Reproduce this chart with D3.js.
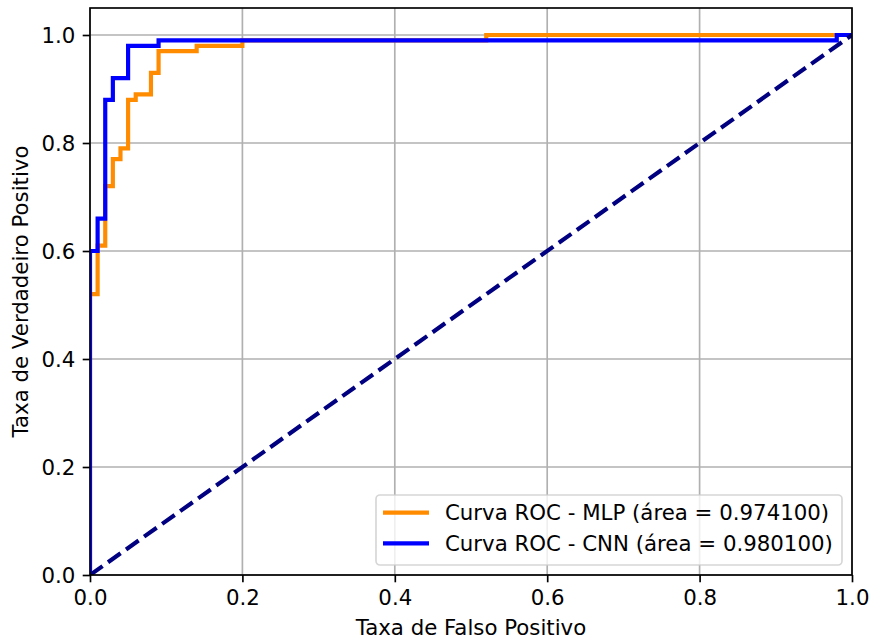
<!DOCTYPE html>
<html>
<head>
<meta charset="utf-8">
<script src="https://cdn.jsdelivr.net/npm/d3@7"></script>
<style>
  html, body { margin: 0; padding: 0; background: #fff; }
  svg { display: block; font-family: "DejaVu Sans", sans-serif; }
</style>
</head>
<body>
<svg id="chart" width="872" height="643"></svg>
<script>
// ---- Data ----
const mlpFpr = [0, 0, 0.01, 0.01, 0.02, 0.02, 0.03, 0.03, 0.04, 0.04, 0.05, 0.05, 0.06, 0.06, 0.08, 0.08, 0.09, 0.09, 0.14, 0.14, 0.20, 0.20, 0.52, 0.52, 1.0];
const mlpTpr = [0, 0.52, 0.52, 0.61, 0.61, 0.72, 0.72, 0.77, 0.77, 0.79, 0.79, 0.88, 0.88, 0.89, 0.89, 0.93, 0.93, 0.97, 0.97, 0.98, 0.98, 0.99, 0.99, 1.0, 1.0];
const cnnFpr = [0, 0, 0.01, 0.01, 0.02, 0.02, 0.03, 0.03, 0.05, 0.05, 0.09, 0.09, 0.98, 0.98, 1.0];
const cnnTpr = [0, 0.60, 0.60, 0.66, 0.66, 0.88, 0.88, 0.92, 0.92, 0.98, 0.98, 0.99, 0.99, 1.0, 1.0];
const diagonal = [[0, 0], [1, 1]];
const xTicks = [0, 0.2, 0.4, 0.6, 0.8, 1.0];
const yTicks = [0, 0.2, 0.4, 0.6, 0.8, 1.0];
const legendLabels = ["Curva ROC - MLP (área = 0.974100)", "Curva ROC - CNN (área = 0.980100)"];
const seriesColors = ["#ff8c00", "#0000ff"];
const xLabel = "Taxa de Falso Positivo";
const yLabel = "Taxa de Verdadeiro Positivo";

// ---- Layout ----
const L = 90, R = 852, T = 8, B = 575;
const fs = 21.3;
const svg = d3.select("#chart");
const x = d3.scaleLinear().domain([0, 1]).range([L, R]);
const y = d3.scaleLinear().domain([0, 1.05]).range([B, T]);

// grid
const grid = svg.append("g");
xTicks.forEach(v => grid.append("line")
  .attr("x1", x(v)).attr("x2", x(v)).attr("y1", T).attr("y2", B)
  .attr("stroke", "#b0b0b0").attr("stroke-width", 1.67));
yTicks.forEach(v => grid.append("line")
  .attr("x1", L).attr("x2", R).attr("y1", y(v)).attr("y2", y(v))
  .attr("stroke", "#b0b0b0").attr("stroke-width", 1.67));

// clip
svg.append("defs").append("clipPath").attr("id", "clip")
  .append("rect").attr("x", L).attr("y", T).attr("width", R - L).attr("height", B - T);

const line = d3.line().x(d => x(d[0])).y(d => y(d[1]));
const plot = svg.append("g").attr("clip-path", "url(#clip)");
const mlp = mlpFpr.map((v, i) => [v, mlpTpr[i]]);
const cnn = cnnFpr.map((v, i) => [v, cnnTpr[i]]);
plot.append("path").datum(mlp).attr("d", line).attr("fill", "none")
  .attr("stroke", seriesColors[0]).attr("stroke-width", 4.17).attr("stroke-linecap", "square");
plot.append("path").datum(cnn).attr("d", line).attr("fill", "none")
  .attr("stroke", seriesColors[1]).attr("stroke-width", 4.17).attr("stroke-linecap", "square");
plot.append("path").datum(diagonal).attr("d", line).attr("fill", "none")
  .attr("stroke", "#000080").attr("stroke-width", 4.17).attr("stroke-dasharray", "15.4,6.7");

// axes
const xAxis = d3.axisBottom(x).tickValues(xTicks).tickFormat(d3.format(".1f")).tickSize(7.3).tickPadding(7.3);
const yAxis = d3.axisLeft(y).tickValues(yTicks).tickFormat(d3.format(".1f")).tickSize(7.3).tickPadding(7.3);
const gx = svg.append("g").attr("transform", `translate(0,${B})`).call(xAxis);
const gy = svg.append("g").attr("transform", `translate(${L},0)`).call(yAxis);
[gx, gy].forEach(g => {
  g.select(".domain").remove();
  g.selectAll(".tick line").attr("stroke", "#000").attr("stroke-width", 1.67);
  g.selectAll(".tick text").attr("fill", "#000").attr("font-size", fs).attr("font-family", "DejaVu Sans");
});
gx.selectAll(".tick text").attr("dy", null).attr("y", 0).attr("dominant-baseline", null)
  .attr("transform", `translate(0,${7.3 + 7.3 + 15.6})`);
gy.selectAll(".tick text").attr("dy", "0.36em");

// spines
svg.append("rect").attr("x", L).attr("y", T).attr("width", R - L).attr("height", B - T)
  .attr("fill", "none").attr("stroke", "#000").attr("stroke-width", 1.67);

// labels
svg.append("text").attr("x", (L + R) / 2).attr("y", 635).attr("text-anchor", "middle")
  .attr("font-size", fs).text(xLabel);
svg.append("text").attr("transform", `translate(28,${(T + B) / 2}) rotate(-90)`)
  .attr("text-anchor", "middle").attr("font-size", fs).text(yLabel);

// legend
const lg = svg.append("g");
lg.append("rect").attr("x", 376).attr("y", 495).attr("width", 466).attr("height", 70)
  .attr("rx", 4).attr("ry", 4)
  .attr("fill", "rgba(255,255,255,0.8)").attr("stroke", "rgba(204,204,204,0.8)").attr("stroke-width", 1.67);
legendLabels.forEach((lab, i) => {
  const cy = 512.7 + i * 30.7;
  lg.append("line").attr("x1", 383).attr("x2", 429).attr("y1", cy).attr("y2", cy)
    .attr("stroke", seriesColors[i]).attr("stroke-width", 4.17);
  lg.append("text").attr("x", 445).attr("y", cy + 7.6).attr("font-size", fs).attr("fill", "#000").text(lab);
});
</script>
</body>
</html>
